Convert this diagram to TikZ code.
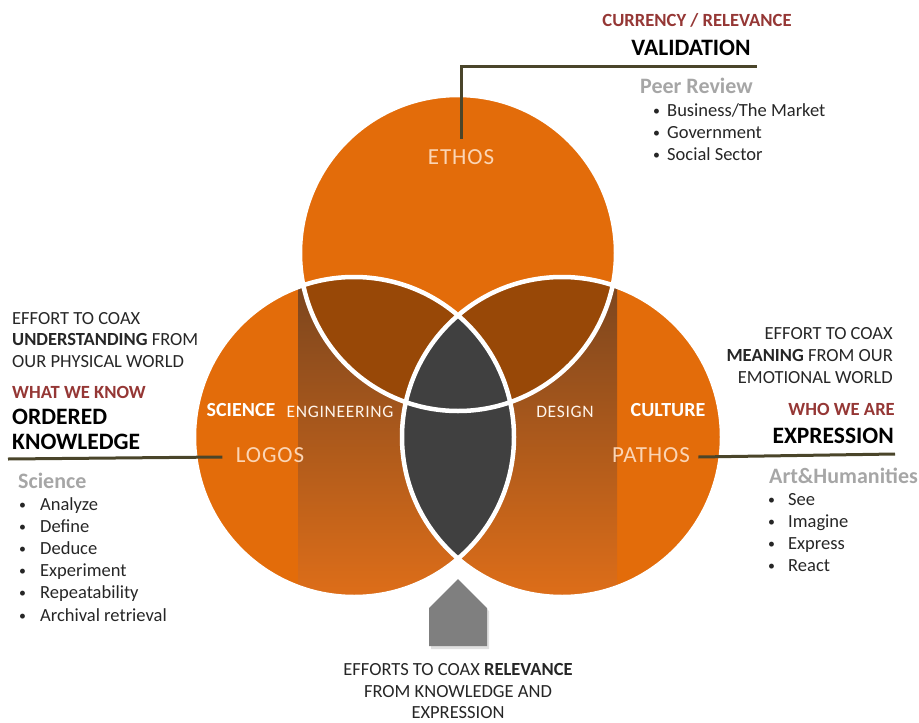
\documentclass[tikz,border=0pt]{standalone}
\usepackage{fontspec}
\setmainfont{Carlito}
\newfontfamily\widefont[LetterSpace=4]{Carlito}
\definecolor{vennorange}{RGB}{227,108,10}
\definecolor{lensbrown}{RGB}{152,72,7}
\definecolor{lensgray}{RGB}{64,64,64}
\definecolor{bandtop}{RGB}{125,70,30}
\definecolor{bandbottom}{RGB}{222,110,25}
\definecolor{labelpeach}{RGB}{251,213,181}
\definecolor{lineolive}{RGB}{74,69,42}
\definecolor{darkrose}{RGB}{149,55,53}
\definecolor{softgray}{RGB}{166,166,166}
\definecolor{bodygray}{RGB}{38,38,38}
\definecolor{housegray}{RGB}{127,127,127}
\newcommand\bitem[1]{\makebox[#1][l]{\raisebox{1pt}{\scalebox{0.75}{\textbullet}}}}
\begin{document}
\begin{tikzpicture}[x=1pt,y=-1pt,
  bodytext/.style={text=bodygray,font=\fontsize{18.5}{22.2}\selectfont,inner sep=0pt},
  redhead/.style={text=darkrose,font=\bfseries\fontsize{18.6}{18.6}\selectfont,inner sep=0pt},
  bighead/.style={text=black,font=\bfseries\fontsize{23.5}{24.5}\selectfont,inner sep=0pt},
  grayhead/.style={text=softgray,font=\bfseries\fontsize{22}{22}\selectfont,inner sep=0pt},
  circlelabel/.style={text=labelpeach,font=\widefont\fontsize{23}{23}\selectfont},
  fieldlabel/.style={text=white,font=\bfseries\fontsize{20}{20}\selectfont},
  overlaplabel/.style={text=white!92!orange,font=\widefont\fontsize{17.5}{17.5}\selectfont},
  connector/.style={draw=lineolive,line width=3pt}]
  \useasboundingbox (0,0) rectangle (919,723);
  \coordinate (ct) at (458,253);
  \coordinate (cl) at (354,437);
  \coordinate (cr) at (562,437);
  \fill[vennorange] (ct) circle (158pt) (cl) circle (160pt) (cr) circle (160pt);
  \begin{scope}
    \clip (cl) circle (160pt) (cr) circle (160pt);
    \shade[top color=bandtop,bottom color=bandbottom] (298,288) rectangle (617,598);
  \end{scope}
  \begin{scope}
    \clip (ct) circle (158pt);
    \fill[lensbrown] (cl) circle (160pt) (cr) circle (160pt);
  \end{scope}
  \begin{scope}
    \clip (cl) circle (160pt);
    \fill[lensgray] (cr) circle (160pt);
  \end{scope}
  \draw[white,line width=4.5pt] (ct) circle (158pt) (cl) circle (160pt) (cr) circle (160pt);
  \fill[black!12] (431,649) -- (431,611) -- (460,582) -- (489,611) -- (489,649) -- cycle;
  \fill[housegray] (429,646) -- (429,608) -- (458,579) -- (487,608) -- (487,646) -- cycle;

  \node[circlelabel] (ethos) at (461,157) {ETHOS};
  \node[circlelabel] (logos) at (270,455) {LOGOS};
  \node[circlelabel] (pathos) at (651,455) {PATHOS};
  \node[fieldlabel] (science) at (241,410) {SCIENCE};
  \node[fieldlabel] (culture) at (668,410) {CULTURE};
  \node[overlaplabel] (engineering) at (340,412) {ENGINEERING};
  \node[overlaplabel] (design) at (565,412) {DESIGN};

  \node[redhead,anchor=north] (currency) at (697,13) {CURRENCY / RELEVANCE};
  \node[bighead,anchor=north] (validation) at (691,40) {VALIDATION};
  \node[grayhead,anchor=north west] (peer) at (640,78) {Peer Review};
  \node[bodytext,anchor=north west,align=left] (peerlist) at (653,103)
    {\bitem{14pt}Business/The Market\\ \bitem{14pt}Government\\ \bitem{14pt}Social Sector};
  \coordinate (valend) at (757,66);
  \draw[connector] ([yshift=7pt]ethos.north) |- (valend);

  \node[bodytext,anchor=north west,align=left,font=\fontsize{18.5}{21.6}\selectfont] (coaxleft) at (12,312)
    {EFFORT TO COAX\\ \textbf{UNDERSTANDING} FROM\\ OUR PHYSICAL WORLD};
  \node[redhead,anchor=north west] (whatknow) at (12,386) {WHAT WE KNOW};
  \node[bighead,anchor=north west,align=left] (ordered) at (12,409) {ORDERED\\ KNOWLEDGE};
  \node[grayhead,anchor=north west] (sciencehead) at (18,473) {Science};
  \node[bodytext,anchor=north west,align=left] (sciencelist) at (19,497)
    {\bitem{21pt}Analyze\\ \bitem{21pt}Define\\ \bitem{21pt}Deduce\\ \bitem{21pt}Experiment\\ \bitem{21pt}Repeatability\\ \bitem{21pt}Archival retrieval};
  \coordinate (knowend) at (8,459);
  \draw[connector] (knowend) -- ([xshift=-10pt,yshift=-2pt]logos.west);

  \node[bodytext,anchor=north east,align=right] (coaxright) at (893,327)
    {EFFORT TO COAX\\ \textbf{MEANING} FROM OUR\\ EMOTIONAL WORLD};
  \node[redhead,anchor=north east] (whoweare) at (895,403) {WHO WE ARE};
  \node[bighead,anchor=north east] (expression) at (894,428) {EXPRESSION};
  \node[grayhead,anchor=north west] (arts) at (769,468) {Art\&Humanities};
  \node[bodytext,anchor=north west,align=left] (artslist) at (768,493)
    {\bitem{20pt}See\\ \bitem{20pt}Imagine\\ \bitem{20pt}Express\\ \bitem{20pt}React};
  \coordinate (expend) at (895,454);
  \draw[connector] ([xshift=5pt,yshift=-2pt]pathos.east) -- (expend);

  \node[bodytext,anchor=north,align=center,font=\fontsize{18.5}{21.8}\selectfont] (relevance) at (458,663)
    {EFFORTS TO COAX \textbf{RELEVANCE}\\ FROM KNOWLEDGE AND\\ EXPRESSION};
\end{tikzpicture}
\end{document}
